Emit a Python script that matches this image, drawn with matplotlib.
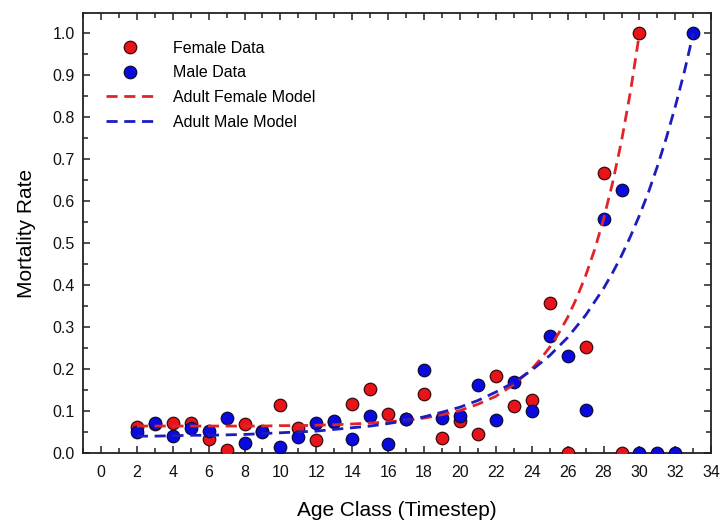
import numpy as np
import matplotlib
matplotlib.use("Agg")
import matplotlib.pyplot as plt
from matplotlib.ticker import MultipleLocator

plt.rcParams['font.family'] = ['Liberation Sans', 'DejaVu Sans']

# observed mortality rates
female_age = [2, 3, 4, 5, 6, 7, 8, 9, 10, 11, 12, 13, 14, 15, 16, 17, 18, 19, 20,
              21, 22, 23, 24, 25, 26, 27, 28, 29, 30]
female_rate = [0.062, 0.068, 0.071, 0.071, 0.033, 0.007, 0.070, 0.052, 0.114, 0.060,
               0.031, 0.074, 0.117, 0.152, 0.093, 0.080, 0.140, 0.036, 0.077, 0.045,
               0.183, 0.112, 0.126, 0.357, 0.0, 0.252, 0.667, 0.0, 1.0]

male_age = [2, 3, 4, 5, 6, 7, 8, 9, 10, 11, 12, 13, 14, 15, 16, 17, 18, 19, 20,
            21, 22, 23, 24, 25, 26, 27, 28, 29, 30, 31, 32, 33]
male_rate = [0.050, 0.071, 0.040, 0.060, 0.052, 0.083, 0.024, 0.050, 0.014, 0.038,
             0.071, 0.076, 0.033, 0.088, 0.021, 0.080, 0.198, 0.083, 0.088, 0.162,
             0.079, 0.169, 0.100, 0.279, 0.231, 0.102, 0.557, 0.627, 0.0, 0.0, 0.0, 1.0]

# model curves
female_model_x = [2, 3, 4, 5, 6, 7, 8, 9, 10, 11, 12, 13, 14, 15, 16, 17, 18, 19, 20,
                  21, 22, 23, 24, 24.5, 25, 25.5, 26, 26.5, 27, 27.5, 28, 28.5, 29,
                  29.5, 30]
female_model_y = [0.064, 0.064, 0.064, 0.064, 0.064, 0.064, 0.064, 0.064, 0.065, 0.065,
                  0.066, 0.067, 0.069, 0.071, 0.074, 0.078, 0.083, 0.091, 0.101, 0.116,
                  0.135, 0.163, 0.200, 0.224, 0.252, 0.285, 0.323, 0.369, 0.422, 0.484,
                  0.557, 0.643, 0.743, 0.861, 1.0]

male_model_x = [2, 3, 4, 5, 6, 7, 8, 9, 10, 11, 12, 13, 14, 15, 16, 17, 18, 19, 20,
                21, 22, 23, 24, 25, 26, 27, 28, 28.5, 29, 29.5, 30, 30.5, 31, 31.5,
                32, 32.5, 33]
male_model_y = [0.040, 0.040, 0.041, 0.042, 0.042, 0.043, 0.044, 0.046, 0.048, 0.050,
                0.052, 0.056, 0.060, 0.064, 0.070, 0.077, 0.086, 0.097, 0.109, 0.125,
                0.145, 0.168, 0.197, 0.232, 0.275, 0.328, 0.392, 0.429, 0.470, 0.516,
                0.566, 0.621, 0.683, 0.751, 0.826, 0.908, 1.0]

red = '#e8141a'
blue = '#0a0ae0'

fig = plt.figure(figsize=(7.28, 5.23), dpi=100)
ax = fig.add_axes([0.114, 0.134, 0.863, 0.841])

ax.plot(female_age, female_rate, 'o', color=red, mec='#3a0a0a', mew=0.9, ms=9,
        label='Female Data', zorder=3)
ax.plot(male_age, male_rate, 'o', color=blue, mec='#0a0a3a', mew=0.9, ms=9,
        label='Male Data', zorder=3)
ax.plot(female_model_x, female_model_y, color='#e02428', lw=2, dashes=(4, 2.4),
        label='Adult Female Model', zorder=4)
ax.plot(male_model_x, male_model_y, color='#1c1cc0', lw=2, dashes=(4, 2.4),
        label='Adult Male Model', zorder=4)

ax.set_xlim(-1, 34)
ax.set_ylim(0, 1.048)
ax.xaxis.set_major_locator(MultipleLocator(2))
ax.xaxis.set_minor_locator(MultipleLocator(1))
ax.yaxis.set_major_locator(MultipleLocator(0.1))
ax.yaxis.set_minor_locator(MultipleLocator(0.05))
ax.yaxis.set_major_formatter(plt.FormatStrFormatter('%.1f'))
ax.tick_params(which='both', direction='in', top=True, right=True, labelsize=11.5,
               width=1.1, colors='#222222', labelcolor='#111111')
ax.tick_params(which='major', length=5)
ax.tick_params(which='minor', length=3.5)
ax.tick_params(axis='x', which='major', pad=9)
ax.tick_params(axis='y', which='major', pad=6)
for s in ax.spines.values():
    s.set_linewidth(1.3)
    s.set_color('#222222')

ax.set_xlabel('Age Class (Timestep)', fontsize=15, labelpad=15)
ax.set_ylabel('Mortality Rate', fontsize=15, labelpad=12)

ax.legend(loc='upper left', bbox_to_anchor=(0.037, 0.937), frameon=False,
          fontsize=11.5, handlelength=3.0, handletextpad=1.2, labelspacing=0.6,
          borderpad=0, borderaxespad=0, numpoints=1)

fig.savefig('out.png', dpi=100)
